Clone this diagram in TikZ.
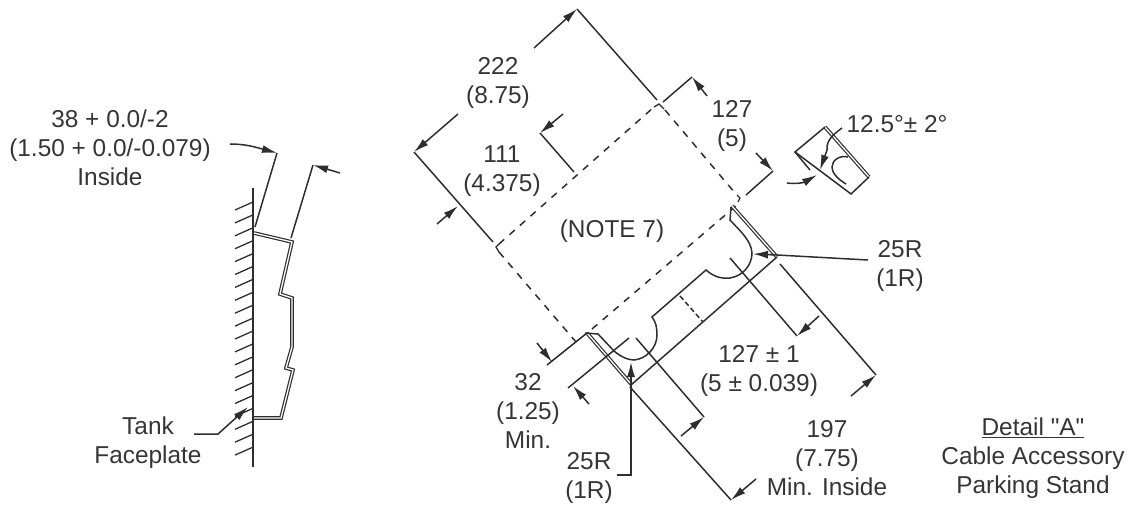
\documentclass[tikz,border=0pt]{standalone}
\usepackage{fontspec}
\setmainfont{Liberation Sans}[Ligatures=TeXOff]
\usetikzlibrary{arrows.meta}
\definecolor{ink}{HTML}{2E2E2E}
\definecolor{txt}{HTML}{353535}
\tikzset{
  every node/.style={inner sep=0pt,outer sep=0pt},
  lbl/.style={text=txt,align=center,yshift=-1.5pt,font=\fontsize{24.4}{29}\selectfont},
  ln/.style={draw=ink,line width=1.5pt,line join=miter},
  thinln/.style={draw=ink,line width=1.3pt},
  dim/.style={ln,-{Latex[length=15pt,width=8pt]}},
  dash7/.style={ln,dash pattern=on 7pt off 7pt},
  wallpart/.style={draw=ink,line width=1.2pt,double=white,double distance=1.3pt,line join=miter},
}
\begin{document}
\begin{tikzpicture}[x=1pt,y=-1pt]
\useasboundingbox (0,0) rectangle (1132,505);
% ---------- left view ----------
\draw[ln] (253,188) -- (253,467);
\foreach \i in {0,...,19} {\draw[thinln] (253,202+12.9*\i) -- (235,210+12.9*\i);}
\draw[wallpart] (254,233) -- (292,242) -- (280,294) -- (292,298) -- (292,347) -- (286,368) -- (293,370) -- (281,418) -- (254,418);
\draw[ln] (255,227) -- (277,153);
\draw[ln] (291,238) -- (313,165);
\draw[dim] (230,144) .. controls (245,144) and (255,147) .. (277,153);
\draw[dim] (340,173) -- (313,165);
\draw[dim] (194,434) -- (218,434) -- (248,407);
\node[lbl] (dimA) at (110,146) {38 + 0.0/-2\\(1.50 + 0.0/-0.079)\\Inside};
\node[lbl] (tank) at (148,441) {Tank\\Faceplate};
% ---------- dashed area ----------
\draw[dash7] (499,244) -- (654,107);
\draw[dash7] (665,110) -- (735,193);
\draw[dash7] (499,252) -- (576,342);
\draw[dash7] (592,329) -- (737,205);
\draw[thinln] (499,244) -- (496,247) -- (499,252);
\draw[thinln] (654,107) -- (659,104) -- (664,109);
\draw[thinln] (737,195) -- (740,198) -- (738,202);
% ---------- extension lines and dimensions ----------
\draw[ln] (577,9) -- (657,100);
\draw[ln] (414,152) -- (493,242);
\draw[ln] (540,133) -- (574,172);
\draw[ln] (663,102) -- (692,77);
\draw[ln] (746,195) -- (773,171);
\draw[ln] (547,365) -- (587,333);
\draw[dim] (534,48) -- (577,9);
\draw[dim] (458,114) -- (414,152);
\draw[dim] (563,114) -- (540,133);
\draw[dim] (437,224) -- (458,206);
\draw[dim] (707,96) -- (692,77);
\draw[dim] (756,153) -- (773,171);
\draw[dim] (537,343) -- (552,362);
% ---------- stand ----------
\draw[wallpart] (732,206) -- (777,257);
\draw[wallpart] (587,333) -- (631,384);
\draw[ln] (777,257) -- (631,385);
\draw[ln] (585,333) -- (598,334) -- (614,351)
  .. controls (622,358) and (630,360) .. (634,360)
  .. controls (646,359) and (657,348) .. (657,335)
  .. controls (657,328) and (656,322) .. (652,317)
  -- (706,270)
  .. controls (713,276) and (720,279) .. (730,278)
  .. controls (743,276) and (752,265) .. (752,253)
  .. controls (751,240) and (740,231) .. (730,220)
  -- (731,207);
\draw[ln,dash pattern=on 5pt off 3pt] (680,296) -- (703,322);
\draw[ln] (568,388) -- (629,338);
\draw[ln] (636,338) -- (704,417);
\draw[ln] (630,387) -- (731,500);
\draw[ln] (730,258) -- (797,336);
\draw[ln] (780,264) -- (876,375);
\draw[dim] (589,404) -- (573,386);
\draw[dim] (681,436) -- (704,417);
\draw[dim] (756,479) -- (731,500);
\draw[dim] (819,316) -- (797,336);
\draw[dim] (851,396) -- (876,375);
\draw[dim] (868,260) -- (777,255) -- (753,254);
\draw[dim] (617,475) -- (631,475) -- (631,362);
% ---------- wedge detail ----------
\draw[wallpart] (825,127) -- (869,177);
\draw[ln] (825,127) -- (795,152) -- (851,194) -- (869,177);
\draw[ln] (795,152) -- (810,170);
\draw[ln] (846,184) .. controls (836,178) and (832,172) .. (832,167)
  .. controls (832,160) and (840,155) .. (848,157);
\draw[dim] (842,128) .. controls (834,134) and (826,140) .. (827,150) -- (820,170);
\draw[dim] (787,183) .. controls (795,184) and (803,183) .. (817,175);
% ---------- labels ----------
\node[lbl] (d222) at (498,82) {222\\(8.75)};
\node[lbl] (d111) at (502,170) {111\\(4.375)};
\node[lbl] (note) at (612,230) {(NOTE 7)};
\node[lbl] (d127) at (732,125) {127\\(5)};
\node[lbl] (ang) at (897,123) {12.5°± 2°};
\node[lbl] (r1) at (900,265) {25R\\(1R)};
\node[lbl] (r2) at (589,477) {25R\\(1R)};
\node[lbl] (d32) at (528,409) {32\\(1.25)\\Min.};
\node[lbl] (d127b) at (759,370) {127 ± 1\\(5 ± 0.039)};
\node[lbl] (d197) at (827,457) {197\\(7.75)\\Min. Inside};
\node[lbl] (detail) at (1033,457) {\underline{Detail "A"}\\Cable Accessory\\Parking Stand};
\end{tikzpicture}
\end{document}
